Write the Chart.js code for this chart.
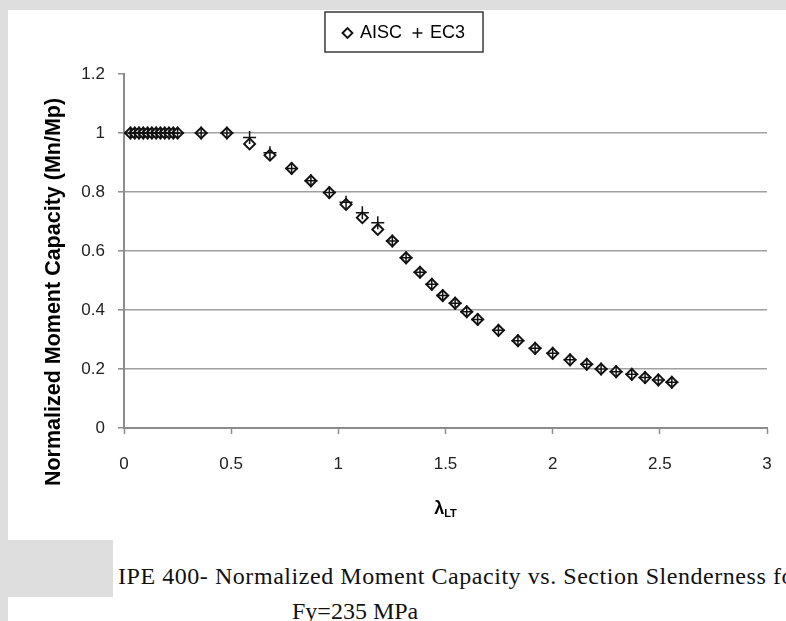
<!DOCTYPE html>
<html>
<head>
<meta charset="utf-8">
<script src="https://cdn.jsdelivr.net/npm/chart.js@4.4.0/dist/chart.umd.min.js"></script>
<style>
    html, body { margin: 0; padding: 0; width: 786px; height: 621px; overflow: hidden; background: #dedede; }
    #panel { position: absolute; left: 8px; top: 10px; right: 0; bottom: 0; background: #fff; }
    #grayBox { position: absolute; left: 0; top: 540px; width: 113px; height: 57px; background: #dedede; }
    #wrap { position: absolute; left: 0; top: 0; width: 786px; height: 540px; }
    .cap { position: absolute; font-family: "Liberation Serif", "Times New Roman", serif; font-size: 24px; color: #111; white-space: nowrap; }
</style>
</head>
<body>
<div id="panel"></div>
<div id="grayBox"></div>
<div class="cap" style="left:118px; top:563px; letter-spacing:0.55px;">IPE 400- Normalized Moment Capacity vs. Section Slenderness for</div>
<div class="cap" style="left:292px; top:598px;">Fy=235 MPa</div>
<div id="wrap"><canvas id="graficaMomento" width="786" height="540"></canvas></div>

<script>
// Esbeltez lambda_LT (eje X), compartida por ambas series
const lambdaLT = [0.03, 0.05, 0.07, 0.09, 0.11, 0.13, 0.15, 0.17, 0.19, 0.21, 0.23, 0.25,
    0.36, 0.48, 0.586, 0.681, 0.782, 0.872, 0.958, 1.036, 1.112, 1.184, 1.252, 1.316,
    1.381, 1.436, 1.487, 1.545, 1.599, 1.65, 1.747, 1.838, 1.918, 2.0, 2.081, 2.159,
    2.226, 2.296, 2.369, 2.431, 2.493, 2.556];

// Mn/Mp segun AISC
const aiscRatio = [1, 1, 1, 1, 1, 1, 1, 1, 1, 1, 1, 1,
    1, 1, 0.963, 0.925, 0.88, 0.838, 0.798, 0.758, 0.713, 0.673, 0.634, 0.577,
    0.528, 0.487, 0.449, 0.423, 0.394, 0.368, 0.331, 0.296, 0.27, 0.253, 0.231, 0.216,
    0.2, 0.191, 0.182, 0.171, 0.163, 0.155];

// Mn/Mp segun EC3
const ec3Ratio = [1, 1, 1, 1, 1, 1, 1, 1, 1, 1, 1, 1,
    1, 1, 0.985, 0.933, 0.88, 0.838, 0.798, 0.765, 0.73, 0.696, 0.634, 0.577,
    0.528, 0.487, 0.449, 0.423, 0.394, 0.368, 0.331, 0.296, 0.27, 0.253, 0.231, 0.216,
    0.2, 0.191, 0.182, 0.171, 0.163, 0.155];

const xTicks = [0, 0.5, 1, 1.5, 2, 2.5, 3];
const yTicks = [0, 0.2, 0.4, 0.6, 0.8, 1, 1.2];

const fuente = '"Liberation Sans", Arial, sans-serif';

// Deja mas aire bajo la leyenda (el area de trazado empieza mas abajo)
const espacioLeyenda = {
    id: 'espacioLeyenda',
    afterInit(chart) {
        const fitOriginal = chart.legend.fit;
        chart.legend.fit = function () {
            fitOriginal.call(this);
            this.height += 22;
        };
    }
};

// Marco alrededor de la leyenda (como en Excel)
const marcoLeyenda = {
    id: 'marcoLeyenda',
    afterDraw(chart) {
        const cajas = chart.legend.legendHitBoxes;
        if (!cajas || !cajas.length) return;
        const x0 = Math.min(...cajas.map(b => b.left)) - 19;
        const x1 = Math.max(...cajas.map(b => b.left + b.width)) + 18;
        const y0 = Math.min(...cajas.map(b => b.top)) - 12;
        const y1 = Math.max(...cajas.map(b => b.top + b.height)) + 10;
        const c = chart.ctx;
        c.save();
        c.strokeStyle = '#3a3a3a';
        c.lineWidth = 1.5;
        c.strokeRect(x0, y0, x1 - x0, y1 - y0);
        c.restore();
    }
};

// Titulos de ejes (el del eje X lleva subindice)
const titulosEjes = {
    id: 'titulosEjes',
    afterDraw(chart) {
        const c = chart.ctx;
        const a = chart.chartArea;
        const tituloY = 'Normalized Moment Capacity (Mn/Mp)';
        c.save();
        c.fillStyle = '#000';
        c.font = 'bold 17px ' + fuente;
        const tam = Math.min(23, 17 * 389 / c.measureText(tituloY).width);
        c.font = 'bold ' + tam.toFixed(1) + 'px ' + fuente;
        c.textAlign = 'center';
        c.textBaseline = 'middle';
        c.translate(54, 292);
        c.rotate(-Math.PI / 2);
        c.fillText(tituloY, 0, 0);
        c.restore();

        c.save();
        c.fillStyle = '#000';
        c.textBaseline = 'alphabetic';
        c.font = 'bold 18px ' + fuente;
        const wL = c.measureText('λ').width;
        c.font = 'bold 11px ' + fuente;
        const wS = c.measureText('LT').width;
        const xc = (a.left + a.right) / 2;
        const x = xc - (wL + wS) / 2;
        c.font = 'bold 18px ' + fuente;
        c.fillText('λ', x, 514);
        c.font = 'bold 11px ' + fuente;
        c.fillText('LT', x + wL, 517);
        c.restore();
    }
};

const ctxMomento = document.getElementById('graficaMomento').getContext('2d');
new Chart(ctxMomento, {
    type: 'scatter',
    data: {
        datasets: [
            {
                label: 'AISC',
                data: lambdaLT.map((x, i) => ({ x: x, y: aiscRatio[i] })),
                pointStyle: 'rectRot',
                pointRadius: 5.5,
                backgroundColor: '#fff',
                borderColor: '#111',
                pointBorderWidth: 1.9,
                order: 2
            },
            {
                label: 'EC3',
                data: lambdaLT.map((x, i) => ({ x: x, y: ec3Ratio[i] })),
                pointStyle: 'cross',
                pointRadius: 6.5,
                backgroundColor: '#111',
                borderColor: '#111',
                pointBorderWidth: 1.5,
                order: 1
            }
        ]
    },
    options: {
        responsive: false,
        animation: false,
        layout: { padding: { left: 42, right: 19, top: 12, bottom: 0 } },
        plugins: {
            legend: {
                position: 'top',
                labels: {
                    usePointStyle: true,
                    boxWidth: 7,
                    boxHeight: 7,
                    padding: 12,
                    color: '#000',
                    font: { family: fuente, size: 18 },
                    sort: (a, b) => a.datasetIndex - b.datasetIndex
                }
            },
            tooltip: { enabled: false }
        },
        scales: {
            x: {
                type: 'linear',
                min: 0,
                max: 3,
                afterBuildTicks: axis => { axis.ticks = xTicks.map(v => ({ value: v })); },
                afterFit: s => { s.height = 112; s.paddingLeft = 0; s.paddingRight = 0; },
                grid: { drawOnChartArea: false, drawTicks: true, tickLength: 6, tickColor: '#8c8c8c', tickWidth: 1.5 },
                border: { color: '#8c8c8c', width: 2 },
                ticks: { padding: 20, color: '#222', font: { family: fuente, size: 17 }, callback: v => String(v) }
            },
            y: {
                min: 0,
                max: 1.2,
                afterBuildTicks: axis => { axis.ticks = yTicks.map(v => ({ value: v })); },
                afterFit: s => { s.width = 82; },
                grid: {
                    color: c => (c.tick && c.tick.value === 1.2) ? 'rgba(0,0,0,0)' : '#a0a0a0',
                    lineWidth: 1.6,
                    tickLength: 6,
                    tickColor: '#8c8c8c',
                    tickWidth: 1.5
                },
                border: { color: '#8c8c8c', width: 2 },
                ticks: { padding: 13, color: '#222', font: { family: fuente, size: 17 }, callback: v => String(Math.round(v * 10) / 10) }
            }
        }
    },
    plugins: [espacioLeyenda, marcoLeyenda, titulosEjes]
});
</script>
</body>
</html>
